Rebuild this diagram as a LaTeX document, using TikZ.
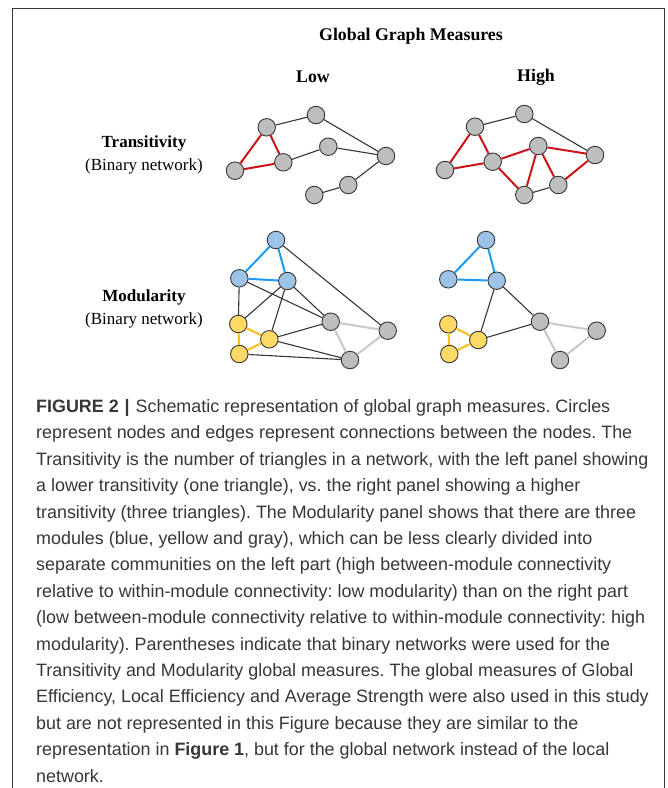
\documentclass[tikz,border=0pt]{standalone}
\usepackage{fontspec}
\setmainfont{Liberation Serif}
\newfontfamily\capfont{Liberation Sans}
\frenchspacing
\definecolor{ngray}{RGB}{190,190,190}
\definecolor{nblue}{RGB}{157,195,230}
\definecolor{nyellow}{RGB}{255,217,102}
\definecolor{eblue}{RGB}{30,155,240}
\definecolor{eyellow}{RGB}{250,190,20}
\definecolor{ered}{RGB}{205,20,25}
\definecolor{elight}{RGB}{200,200,200}
\definecolor{edark}{RGB}{55,55,55}
\definecolor{captxt}{RGB}{55,55,55}
\tikzset{
  gnode/.style={circle,draw=edark,line width=0.9pt,fill=ngray,minimum size=17.5pt,inner sep=0pt},
  bnode/.style={gnode,fill=nblue},
  ynode/.style={gnode,fill=nyellow},
  blk/.style={draw=edark,line width=1.1pt},
  redge/.style={draw=ered,line width=2pt},
  bedge/.style={draw=eblue,line width=2pt},
  yedge/.style={draw=eyellow,line width=2pt},
  ledge/.style={draw=elight,line width=2pt},
  hdr/.style={font=\fontsize{17.8}{20}\selectfont\bfseries},
  lbl/.style={font=\fontsize{17}{23}\selectfont,align=center}
}
\begin{document}
\begin{tikzpicture}[x=1pt,y=-1pt]
\useasboundingbox (0,0) rectangle (668,788);
\fill[white] (0,0) rectangle (668,788);
\draw[edark,line width=1pt] (12.5,800) -- (12.5,8.5) -- (664.5,8.5) -- (664.5,800);
\node[hdr] (title) at (411,36) {Global Graph Measures};
\node[hdr] (low) at (313,77) {Low};
\node[hdr] (high) at (536,77) {High};
\node[lbl] (trans) at (144,155) {\textbf{Transitivity}\\(Binary network)};
\node[lbl] (modu) at (144,309) {\textbf{Modularity}\\(Binary network)};
% low transitivity
\node[gnode] (LA) at (266.7,127.3) {};
\node[gnode] (LB) at (316,115) {};
\node[gnode] (LC) at (235,170.7) {};
\node[gnode] (LD) at (283.3,162.3) {};
\node[gnode] (LE) at (328.3,146.7) {};
\node[gnode] (LF) at (386,156) {};
\node[gnode] (LG) at (348.3,185) {};
\node[gnode] (LH) at (314.3,195) {};
\path[blk] (LA) -- (LB) (LB) -- (LF) (LD) -- (LE) (LE) -- (LF) (LF) -- (LG) (LG) -- (LH);
\path[redge] (LA) -- (LC) (LA) -- (LD) (LC) -- (LD);
% high transitivity
\node[gnode] (HA) at (475,126.7) {};
\node[gnode] (HB) at (524.3,114) {};
\node[gnode] (HC) at (445,170) {};
\node[gnode] (HD) at (492.7,161.7) {};
\node[gnode] (HE) at (538.3,146) {};
\node[gnode] (HF) at (595,155) {};
\node[gnode] (HG) at (558.3,185) {};
\node[gnode] (HH) at (524.3,195) {};
\path[blk] (HA) -- (HB) (HB) -- (HF) (HG) -- (HH);
\path[redge] (HA) -- (HC) (HA) -- (HD) (HC) -- (HD) (HD) -- (HE) (HD) -- (HH) (HE) -- (HH)
  (HE) -- (HF) (HE) -- (HG) (HF) -- (HG);
% low modularity
\node[bnode] (MB1) at (276,240) {};
\node[bnode] (MB2) at (239.3,278.3) {};
\node[bnode] (MB3) at (287.3,281) {};
\node[ynode] (MY1) at (238.3,324) {};
\node[ynode] (MY2) at (269.3,339.3) {};
\node[ynode] (MY3) at (239.3,354) {};
\node[gnode] (MG1) at (330.7,321.7) {};
\node[gnode] (MG2) at (387.7,330.7) {};
\node[gnode] (MG3) at (350,360) {};
\path[blk] (MB1) -- (MG2) (MB2) -- (MY1) (MB2) -- (MG1) (MB3) -- (MY1) (MB3) -- (MY2)
  (MB3) -- (MG1) (MY2) -- (MG1) (MY2) -- (MG3) (MY3) -- (MG3);
\path[bedge] (MB1) -- (MB2) (MB1) -- (MB3) (MB2) -- (MB3);
\path[yedge] (MY1) -- (MY2) (MY1) -- (MY3) (MY2) -- (MY3);
\path[ledge] (MG1) -- (MG2) (MG1) -- (MG3) (MG2) -- (MG3);
% high modularity
\node[bnode] (NB1) at (486,240) {};
\node[bnode] (NB2) at (448.3,279.3) {};
\node[bnode] (NB3) at (496.7,280.7) {};
\node[ynode] (NY1) at (448.3,324.3) {};
\node[ynode] (NY2) at (478.3,340) {};
\node[ynode] (NY3) at (449.3,354) {};
\node[gnode] (NG1) at (540,321.7) {};
\node[gnode] (NG2) at (596.7,330.7) {};
\node[gnode] (NG3) at (560,360) {};
\path[blk] (NB3) -- (NY2) (NB3) -- (NG1) (NY2) -- (NG1);
\path[bedge] (NB1) -- (NB2) (NB1) -- (NB3) (NB2) -- (NB3);
\path[yedge] (NY1) -- (NY2) (NY1) -- (NY3) (NY2) -- (NY3);
\path[ledge] (NG1) -- (NG2) (NG1) -- (NG3) (NG2) -- (NG3);
% caption
\node[anchor=base west,inner sep=0pt,text=captxt,align=left,
  font=\capfont\fontsize{17.9}{26.4}\selectfont] (cap) at (36,782) {%
\textbf{FIGURE 2\,\,|\,}\,Schematic representation of global graph measures. Circles\\
represent nodes and edges represent connections between the nodes. The\\
Transitivity is the number of triangles in a network, with the left panel showing\\
a lower transitivity (one triangle), vs. the right panel showing a higher\\
transitivity (three triangles). The Modularity panel shows that there are three\\
modules (blue, yellow and gray), which can be less clearly divided into\\
separate communities on the left part (high between-module connectivity\\
relative to within-module connectivity: low modularity) than on the right part\\
(low between-module connectivity relative to within-module connectivity: high\\
modularity). Parentheses indicate that binary networks were used for the\\
Transitivity and Modularity global measures. The global measures of Global\\
Efficiency, Local Efficiency and Average Strength were also used in this study\\
but are not represented in this Figure because they are similar to the\\
representation in \textbf{Figure 1}, but for the global network instead of the local\\
network.};
\end{tikzpicture}
\end{document}
